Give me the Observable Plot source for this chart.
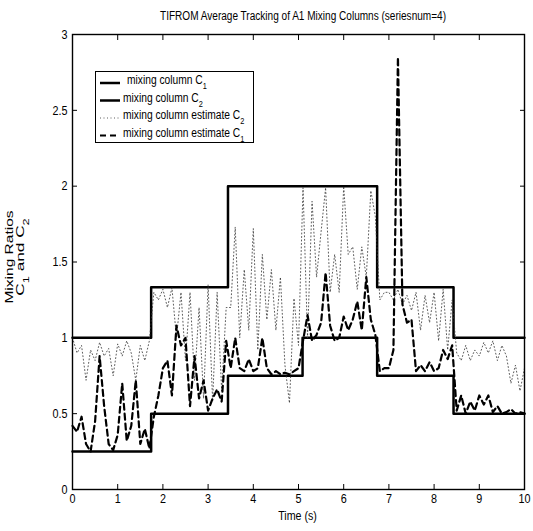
<!DOCTYPE html>
<html><head><meta charset="utf-8">
<script src="https://cdn.jsdelivr.net/npm/d3@7"></script>
<script src="https://cdn.jsdelivr.net/npm/@observablehq/plot@0.6"></script>
<style>body{margin:0;background:#fff} svg{display:block}</style>
</head><body><div id="chart"></div>
<script>
// sampling interval of the estimates (s)
const dt = 0.1;
// mixing column estimate C1 (dashed), t = 0 .. 10 s
const estC1 = [
  0.42,0.38,0.48,0.30,0.25,0.45,0.88,0.55,0.30,0.26,
  0.36,0.70,0.32,0.42,0.72,0.30,0.40,0.27,0.48,0.62,
  0.80,0.85,0.62,1.08,0.95,1.00,0.55,0.88,0.60,0.72,
  0.52,0.60,0.66,0.58,0.98,0.80,1.00,0.80,0.78,0.86,
  0.78,0.80,1.00,0.80,0.76,0.78,0.76,0.77,0.76,0.78,
  0.80,0.98,1.15,0.98,1.02,1.10,1.43,1.08,0.98,1.00,
  1.14,1.05,1.12,1.24,1.05,1.40,1.12,1.02,0.78,0.80,
  0.80,0.92,2.85,1.22,1.10,1.12,0.78,0.82,0.78,0.84,
  0.78,0.80,0.92,0.86,0.95,0.52,0.62,0.50,0.58,0.52,
  0.62,0.56,0.62,0.51,0.55,0.50,0.51,0.53,0.50,0.51,
  0.50
];
// mixing column estimate C2 (dotted), t = 0 .. 10 s
const estC2 = [
  1.00,0.90,0.95,0.72,0.92,0.85,0.97,0.88,0.93,0.75,
  0.96,0.88,0.98,0.90,0.72,0.95,0.85,0.98,1.30,1.25,
  1.32,1.20,1.33,1.00,1.30,0.85,1.30,0.72,1.20,0.60,
  1.35,0.58,1.30,0.65,1.20,1.20,1.73,1.00,1.45,1.05,
  1.72,0.92,1.55,1.12,1.45,1.05,1.40,0.82,0.57,1.26,
  0.95,1.99,1.00,1.90,1.40,1.70,1.99,1.30,1.55,1.30,
  2.00,1.55,1.60,1.32,1.60,1.40,1.97,1.80,1.25,1.30,
  1.30,1.25,1.32,1.22,1.28,1.18,1.30,1.05,1.28,1.10,
  1.30,0.98,1.32,0.92,1.25,0.90,0.85,0.95,0.85,0.92,
  0.88,0.97,0.90,0.98,0.85,0.95,0.88,0.70,0.82,0.65,
  0.80
];
// true mixing columns (piecewise constant)
const stepTimes = [0, 1.74, 3.44, 5.09, 6.74, 8.43, 10];
const colC1 = [0.25, 0.5, 0.75, 1, 0.75, 0.5];
const colC2 = [1, 1.3333, 2, 2, 1.3333, 1];
const xTicks = [0,1,2,3,4,5,6,7,8,9,10];
const yTicks = [0,0.5,1,1.5,2,2.5,3];
const titleText = "TIFROM Average Tracking of A1 Mixing Columns (seriesnum=4)";
const xLabel = "Time (s)";

const FONT = '"Liberation Sans",Arial,Helvetica,sans-serif';

const time = estC1.map((_, i) => +(i * dt).toFixed(2));
const rowsE1 = estC1.map((v, i) => ({t: time[i], v}));
const rowsE2 = estC2.map((v, i) => ({t: time[i], v}));
const stepRows = vals => stepTimes.map((t, i) => ({t, v: vals[Math.min(i, vals.length - 1)]}));

const plot = Plot.plot({
  width: 533, height: 531,
  marginLeft: 72, marginRight: 9, marginTop: 34, marginBottom: 42,
  style: {fontFamily: FONT, fontSize: "13.5px", background: "white", color: "#000", overflow: "visible"},
  x: {domain: [0, 10]},
  y: {domain: [0, 3]},
  marks: [
    Plot.axisX(xTicks, {anchor: "bottom", tickSize: 0, tickPadding: 4, tickFormat: d => String(d), label: null}),
    Plot.axisX(xTicks, {anchor: "bottom", tickSize: 5, dy: -5, tickFormat: () => "", label: null}),
    Plot.axisX(xTicks, {anchor: "top", tickSize: 5, dy: 5, tickFormat: () => "", label: null}),
    Plot.axisY(yTicks, {anchor: "left", tickSize: 0, tickPadding: 5, tickFormat: d => String(d), label: null}),
    Plot.axisY(yTicks, {anchor: "left", tickSize: 5, dx: 5, tickFormat: () => "", label: null}),
    Plot.axisY(yTicks, {anchor: "right", tickSize: 5, dx: -5, tickFormat: () => "", label: null}),
    Plot.line(stepRows(colC1), {x: "t", y: "v", curve: "step-after", stroke: "#000", strokeWidth: 2.5}),
    Plot.line(stepRows(colC2), {x: "t", y: "v", curve: "step-after", stroke: "#000", strokeWidth: 2.5}),
    Plot.line(rowsE2, {x: "t", y: "v", stroke: "#333", strokeWidth: 0.8, strokeDasharray: "1,2.5"}),
    Plot.line(rowsE1, {x: "t", y: "v", stroke: "#000", strokeWidth: 2.2, strokeDasharray: "6,4"}),
    Plot.frame({stroke: "#000", strokeWidth: 1.4})
  ]
});

const svg = d3.select(plot);
// narrow the tick labels horizontally (condensed look of the original)
svg.selectAll("g[aria-label$='tick label'] text").each(function () {
  const tr = this.getAttribute("transform") || "";
  this.setAttribute("transform", tr + " scale(0.8,1)");
});

const ann = svg.append("g").attr("font-family", FONT).attr("fill", "#000");
// title (condensed)
ann.append("text").attr("text-anchor", "middle").attr("font-size", 13.5)
  .attr("transform", "translate(303,19.5) scale(0.745,1)")
  .text(titleText);
// x label
ann.append("text").attr("text-anchor", "middle").attr("font-size", 13.5)
  .attr("transform", "translate(297.5,520) scale(0.79,1)")
  .text(xLabel);
// rotated two-line y label with subscripts (stretched along its length)
const yl1 = ann.append("text").attr("text-anchor", "middle").attr("font-size", 11.5)
  .attr("transform", "translate(13,257) rotate(-90) scale(1.35,1)")
  .text("Mixing Ratios");
const l2 = ann.append("text").attr("text-anchor", "middle").attr("font-size", 11.5)
  .attr("transform", "translate(24,257) rotate(-90) scale(1.5,1)");
l2.append("tspan").text("C");
l2.append("tspan").attr("baseline-shift", "sub").attr("font-size", 8.5).text("1");
l2.append("tspan").text(" and C");
l2.append("tspan").attr("baseline-shift", "sub").attr("font-size", 8.5).text("2");

// legend box
const lg = svg.append("g").attr("font-family", FONT).attr("font-size", 12.5).attr("text-anchor", "start");
lg.append("rect").attr("x", 95.5).attr("y", 71.5).attr("width", 158).attr("height", 71)
  .attr("fill", "#fff").attr("stroke", "#000").attr("stroke-width", 1);
const legendItems = [
  {label: "mixing column C", sub: "1", y: 83, tx: 127, w: 2.5, dash: null, col: "#000"},
  {label: "mixing column C", sub: "2", y: 100.5, tx: 123, w: 2.5, dash: null, col: "#000"},
  {label: "mixing column estimate C", sub: "2", y: 118, tx: 123, w: 0.8, dash: "1,2.5", col: "#333"},
  {label: "mixing column estimate C", sub: "1", y: 135.5, tx: 123, w: 2.2, dash: "6,4", col: "#000"}
];
for (const it of legendItems) {
  const ln = lg.append("line").attr("x1", 100).attr("x2", 120).attr("y1", it.y).attr("y2", it.y)
    .attr("stroke", it.col).attr("stroke-width", it.w);
  if (it.dash) ln.attr("stroke-dasharray", it.dash);
  const tx = lg.append("text").attr("transform", `translate(${it.tx},${it.y + 1}) scale(0.82,1)`);
  tx.append("tspan").text(it.label);
  tx.append("tspan").attr("baseline-shift", "sub").attr("font-size", 9).text(it.sub);
}

document.getElementById("chart").appendChild(plot);
</script>
</body></html>
